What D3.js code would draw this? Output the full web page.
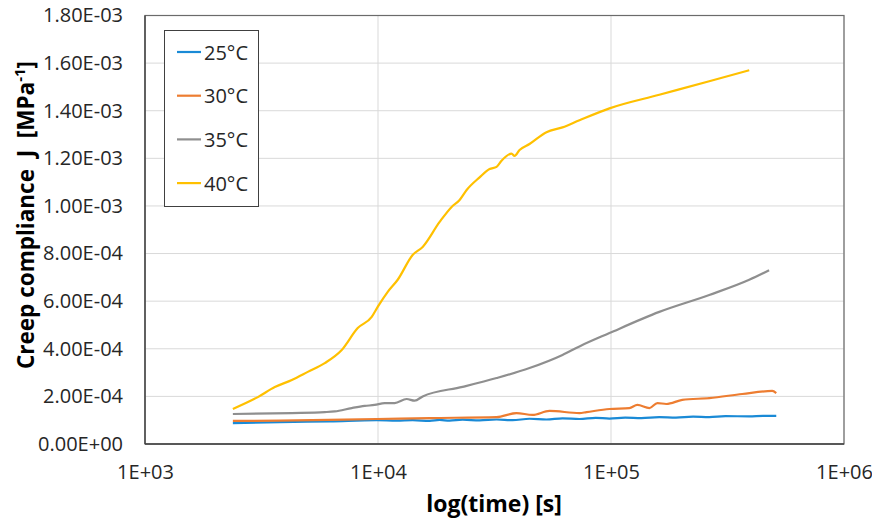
<!DOCTYPE html>
<html><head><meta charset="utf-8">
<script src="https://cdn.jsdelivr.net/npm/d3@7"></script>
<style>body{margin:0;background:#fff}svg{display:block}</style>
</head><body><svg id="c" width="872" height="523"></svg>
<script>
const seriesNames = ["25°C","30°C","35°C","40°C"];
const seriesColors = ["#1a8ad6","#ed7d31","#8f8f8f","#ffc000"];
const xTicks = [1e3,1e4,1e5,1e6];
const yTicks = [0,2e-4,4e-4,6e-4,8e-4,1e-3,1.2e-3,1.4e-3,1.6e-3,1.8e-3];

const t25 = [2383,3790,6210,9870,12020,14080,16670,18380,20290,23070,27290,32280,37780,44690,52850,61920,73240,86000,98500,115000,135000,161200,190000,225000,264000,310000,392000,450000,512000];
const j25 = [8.8e-5,9.2e-5,9.5e-5,1.0e-4,9.8e-5,1.0e-4,9.7e-5,1.01e-4,9.8e-5,1.02e-4,9.9e-5,1.03e-4,1.0e-4,1.06e-4,1.03e-4,1.08e-4,1.05e-4,1.1e-4,1.07e-4,1.11e-4,1.09e-4,1.13e-4,1.11e-4,1.15e-4,1.13e-4,1.17e-4,1.16e-4,1.18e-4,1.18e-4];

const t30 = [2383,3790,9870,16670,32280,39290,46040,54450,73240,78500,98500,119900,129800,146200,158200,172700,202200,264000,365700,492000,512000];
const j30 = [9.7e-5,9.8e-5,1.05e-4,1.09e-4,1.13e-4,1.3e-4,1.22e-4,1.39e-4,1.3e-4,1.34e-4,1.47e-4,1.51e-4,1.64e-4,1.51e-4,1.72e-4,1.68e-4,1.85e-4,1.93e-4,2.1e-4,2.23e-4,2.14e-4];

const t35 = [2383,4267,5909,6523,7713,8770,9670,10690,11790,13270,14370,15550,23070,32280,44690,61920,73240,98500,161200,264000,392000,477000];
const j35 = [1.26e-4,1.30e-4,1.34e-4,1.37e-4,1.51e-4,1.6e-4,1.64e-4,1.72e-4,1.72e-4,1.89e-4,1.82e-4,2.0e-4,2.4e-4,2.77e-4,3.19e-4,3.74e-4,4.1e-4,4.66e-4,5.55e-4,6.26e-4,6.9e-4,7.3e-4];

const t40 = [2383,3051,3607,4267,4996,5909,6988,8185,9398,9970,11010,12150,14083,15550,18390,20700,22400,24010,27290,30120,32280,33900,37420,38540,40500,44690,52850,61920,73240,98500,161200,264000,392000];
const j40 = [1.47e-4,1.97e-4,2.39e-4,2.69e-4,3.03e-4,3.4e-4,3.95e-4,4.87e-4,5.34e-4,5.76e-4,6.39e-4,6.9e-4,7.94e-4,8.28e-4,9.33e-4,9.96e-4,1.025e-3,1.067e-3,1.12e-3,1.155e-3,1.164e-3,1.19e-3,1.22e-3,1.21e-3,1.235e-3,1.26e-3,1.31e-3,1.33e-3,1.36e-3,1.41e-3,1.467e-3,1.524e-3,1.57e-3];

const seriesT = [t25,t30,t35,t40];
const seriesJ = [j25,j30,j35,j40];

const svg = d3.select("#c");
const L=145, R=844, T=15.5, B=444;
const x = d3.scaleLog().domain([1e3,1e6]).range([L,R]);
const y = d3.scaleLinear().domain([0,1.8e-3]).range([B,T]);
const font = "'Open Sans', sans-serif";

function fmtY(v){
  if (v===0) return "0.00E+00";
  const e = Math.floor(Math.log10(v)+1e-9);
  const m = v/Math.pow(10,e);
  const s = e<0?"-":"+";
  return m.toFixed(2)+"E"+s+String(Math.abs(e)).padStart(2,"0");
}
function fmtX(v){
  const e = Math.round(Math.log10(v));
  return "1E+"+String(e).padStart(2,"0");
}

// gridlines
svg.append("g").selectAll("line").data(yTicks).join("line")
  .attr("x1",L).attr("x2",R).attr("y1",d=>y(d)).attr("y2",d=>y(d))
  .attr("stroke","#d9d9d9").attr("stroke-width",1);
svg.append("g").selectAll("line").data(xTicks).join("line")
  .attr("y1",T).attr("y2",B).attr("x1",d=>x(d)).attr("x2",d=>x(d))
  .attr("stroke","#d9d9d9").attr("stroke-width",1);

// frame
svg.append("rect").attr("x",L).attr("y",T).attr("width",R-L).attr("height",B-T)
  .attr("fill","none").attr("stroke","#6b6b6b").attr("stroke-width",1.2);
svg.append("line").attr("x1",L).attr("x2",L).attr("y1",T).attr("y2",B).attr("stroke","#404040").attr("stroke-width",1.3);
svg.append("line").attr("x1",L).attr("x2",R).attr("y1",B).attr("y2",B).attr("stroke","#404040").attr("stroke-width",1.3);

// axes labels via d3 axes
const yAxis = d3.axisLeft(y).tickValues(yTicks).tickFormat(fmtY).tickSize(0).tickPadding(22);
const gy = svg.append("g").attr("transform",`translate(${L},0)`).call(yAxis);
gy.select(".domain").remove();
gy.selectAll("text").attr("font-family",font).attr("font-size",20).attr("fill","#262626");

const xAxis = d3.axisBottom(x).tickValues(xTicks).tickFormat(fmtX).tickSize(0).tickPadding(21);
const gx = svg.append("g").attr("transform",`translate(0,${B})`).call(xAxis);
gx.select(".domain").remove();
gx.selectAll("text").attr("font-family",font).attr("font-size",20).attr("fill","#262626");

// titles
svg.append("text").attr("x",494).attr("y",512).attr("text-anchor","middle")
  .attr("font-family",font).attr("font-weight","bold").attr("font-size",23).attr("fill","#000")
  .text("log(time) [s]");
const yt = svg.append("text").attr("transform","translate(34,215) rotate(-90)").attr("text-anchor","middle")
  .attr("font-family",font).attr("font-weight","bold").attr("font-size",22.5).attr("fill","#000")
  .style("white-space","pre");
yt.append("tspan").text("Creep compliance  J  [MPa");
yt.append("tspan").attr("dy",-9).attr("font-size",15).text("-1");
yt.append("tspan").attr("dy",9).text("]");

// series
const line = d3.line().x(d=>x(d[0])).y(d=>y(d[1])).curve(d3.curveMonotoneX);
seriesNames.forEach((n,i)=>{
  const pts = seriesT[i].map((t,k)=>[t,seriesJ[i][k]]);
  svg.append("path").datum(pts).attr("d",line).attr("fill","none")
    .attr("stroke",seriesColors[i]).attr("stroke-width",2.2).attr("stroke-linejoin","round");
});

// legend
const lg = svg.append("g");
lg.append("rect").attr("x",164.5).attr("y",30.5).attr("width",94).attr("height",176)
  .attr("fill","#fff").attr("stroke","#404040").attr("stroke-width",1);
seriesNames.forEach((n,i)=>{
  const yy = 52 + i*43.7;
  lg.append("line").attr("x1",177).attr("x2",201).attr("y1",yy).attr("y2",yy)
    .attr("stroke",seriesColors[i]).attr("stroke-width",2.2);
  lg.append("text").attr("x",204).attr("y",yy+7.5).attr("font-family",font).attr("font-size",20)
    .attr("fill","#262626").text(n);
});
</script></body></html>
